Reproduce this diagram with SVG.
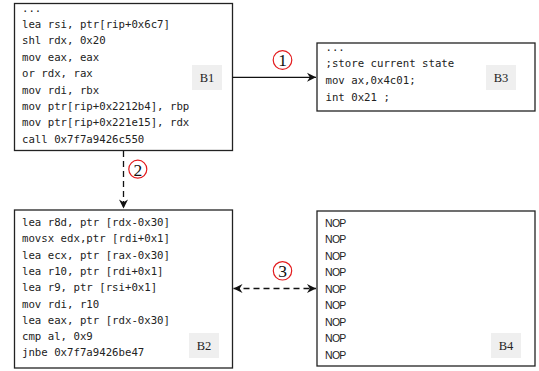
<svg xmlns="http://www.w3.org/2000/svg" width="539" height="371" viewBox="0 0 539 371">
<style>
.box{fill:#fff;stroke:#222;stroke-width:1.3}
.code{font-family:"DejaVu Sans Mono","Liberation Mono",monospace;font-size:10.7px;fill:#222}
.nop{font-family:"Liberation Sans",Arial,sans-serif;font-size:10.5px;fill:#222;letter-spacing:-0.7px}
.lblbg{fill:#efefef}
.lbl{font-family:"Liberation Serif","Times New Roman",serif;font-size:12.5px;fill:#222;text-anchor:middle}
.edge{fill:none;stroke:#111;stroke-width:1.3}
.dash{stroke-dasharray:6 4}
.circ{fill:#fff;stroke:#e31a1c;stroke-width:1.2}
.num{font-family:"Liberation Serif","Times New Roman",serif;font-size:17.5px;fill:#111;text-anchor:middle}
</style>
<defs>
<marker id="ah" markerWidth="12" markerHeight="12" refX="10" refY="6" orient="auto-start-reverse" markerUnits="userSpaceOnUse">
<path d="M10,6 L1,1.5 L3.8,6 L1,10.5 Z" fill="#111"/>
</marker>
</defs>
<g id="B1">
<rect class="box" x="14.5" y="3.5" width="218" height="147"/>
<text class="code" x="22"><tspan x="22" y="11.5">...</tspan><tspan x="22" y="28">lea rsi, ptr[rip+0x6c7]</tspan><tspan x="22" y="44.4">shl rdx, 0x20</tspan><tspan x="22" y="60.8">mov eax, eax</tspan><tspan x="22" y="77.2">or rdx, rax</tspan><tspan x="22" y="93.6">mov rdi, rbx</tspan><tspan x="22" y="110">mov ptr[rip+0x2212b4], rbp</tspan><tspan x="22" y="126.4">mov ptr[rip+0x221e15], rdx</tspan><tspan x="22" y="142.8">call 0x7f7a9426c550</tspan></text>
<rect class="lblbg" x="192" y="65" width="30" height="25"/>
<text class="lbl" x="207" y="82">B1</text>
</g>
<g id="B3">
<rect class="box" x="317" y="43" width="218" height="68"/>
<text class="code"><tspan x="325.5" y="50.6">...</tspan><tspan x="325.5" y="67.3">;store current state</tspan><tspan x="325.5" y="84">mov ax,0x4c01;</tspan><tspan x="325.5" y="100.7">int 0x21 ;</tspan></text>
<rect class="lblbg" x="486" y="65" width="30" height="25"/>
<text class="lbl" x="501" y="82">B3</text>
</g>
<g id="B2">
<rect class="box" x="14.5" y="210" width="218" height="158"/>
<text class="code"><tspan x="22" y="226">lea r8d, ptr [rdx-0x30]</tspan><tspan x="22" y="242.3">movsx edx,ptr [rdi+0x1]</tspan><tspan x="22" y="258.6">lea ecx, ptr [rax-0x30]</tspan><tspan x="22" y="274.9">lea r10, ptr [rdi+0x1]</tspan><tspan x="22" y="291.2">lea r9, ptr [rsi+0x1]</tspan><tspan x="22" y="307.5">mov rdi, r10</tspan><tspan x="22" y="323.8">lea eax, ptr [rdx-0x30]</tspan><tspan x="22" y="340.1">cmp al, 0x9</tspan><tspan x="22" y="356.4">jnbe 0x7f7a9426be47</tspan></text>
<rect class="lblbg" x="189" y="333" width="30" height="25"/>
<text class="lbl" x="204" y="350">B2</text>
</g>
<g id="B4">
<rect class="box" x="317" y="211" width="218" height="155"/>
<text class="nop"><tspan x="325" y="226.5">NOP</tspan><tspan x="325" y="243">NOP</tspan><tspan x="325" y="259.5">NOP</tspan><tspan x="325" y="276">NOP</tspan><tspan x="325" y="292.5">NOP</tspan><tspan x="325" y="309">NOP</tspan><tspan x="325" y="325.5">NOP</tspan><tspan x="325" y="342">NOP</tspan><tspan x="325" y="358.5">NOP</tspan></text>
<rect class="lblbg" x="491" y="333" width="30" height="25"/>
<text class="lbl" x="506" y="350">B4</text>
</g>
<g id="connectors">
<path class="edge" d="M232.5,77.3 L316,77.3" marker-end="url(#ah)"/>
<path class="edge dash" d="M123.5,151 L123.5,208.5" marker-end="url(#ah)"/>
<path class="edge dash" d="M233.5,288.5 L316,288.5" marker-start="url(#ah)" marker-end="url(#ah)"/>
<circle class="circ" cx="282.5" cy="60" r="9.3"/>
<text class="num" x="282.5" y="66.3">1</text>
<circle class="circ" cx="137.8" cy="169.2" r="9"/>
<text class="num" x="137.8" y="175.5">2</text>
<circle class="circ" cx="282.5" cy="270.8" r="9.2"/>
<text class="num" x="282.5" y="277.1">3</text>
</g>
</svg>
